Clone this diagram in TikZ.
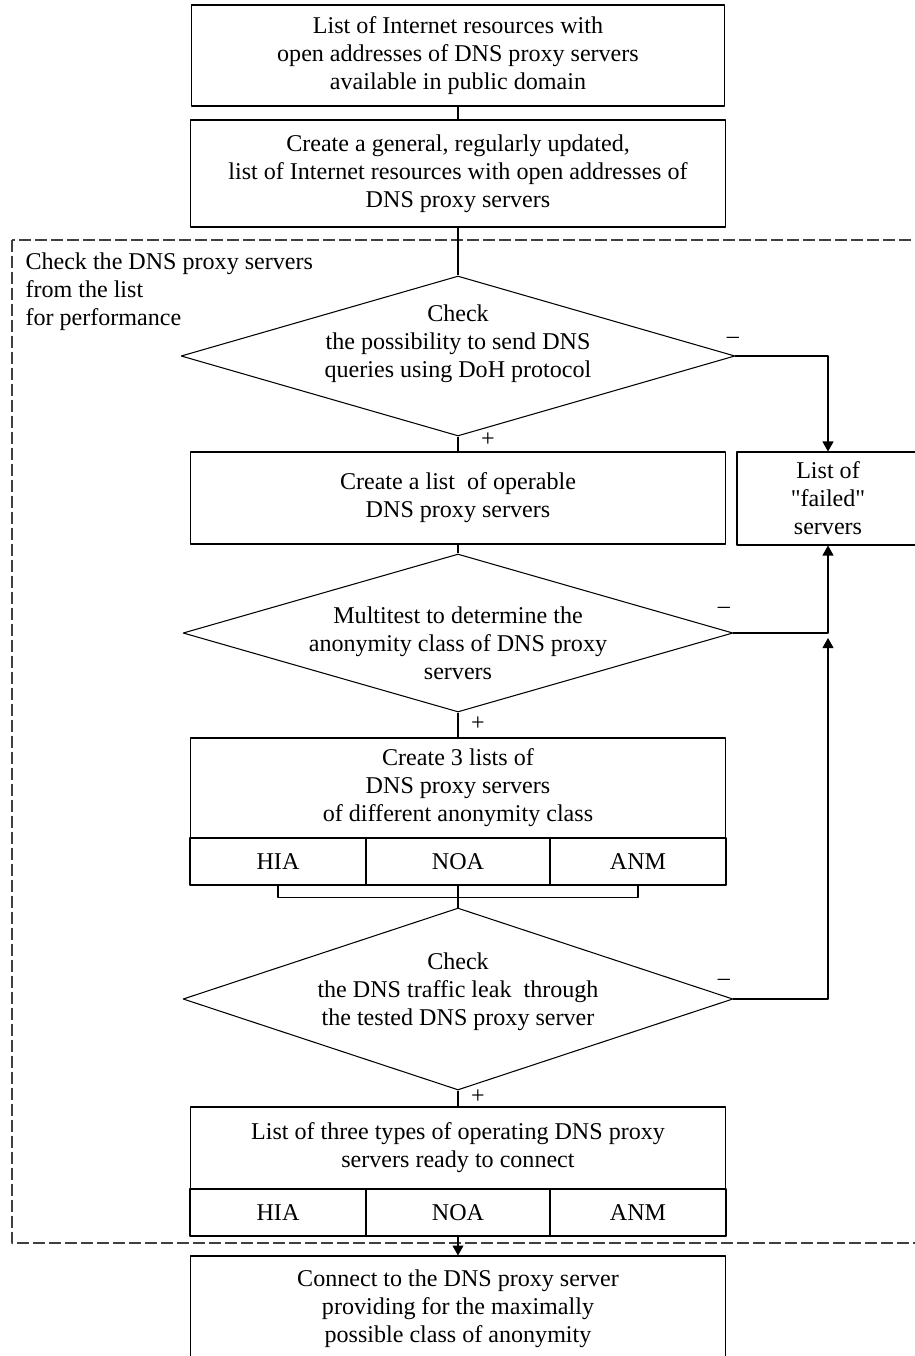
\documentclass[tikz,border=0pt]{standalone}
\usepackage{fontspec}
\setmainfont{Liberation Serif}
\usetikzlibrary{shapes.geometric,arrows.meta}
\begin{document}
\begin{tikzpicture}[x=0.02cm, y=-0.02cm, line width=0.6pt, line join=round,
		font=\fontsize{13.7}{15.9}\selectfont, >={Triangle[length=0.2cm,width=0.22cm]},
		blok/.style={draw, rectangle, align=center, inner sep=0pt, minimum width=10.72cm},
		cell/.style={draw, rectangle, inner sep=0pt, minimum height=0.94cm},
		decision/.style={draw, diamond, inner sep=0pt}]
	\clip (0,0) rectangle (915,1356);
	\useasboundingbox (0,0) rectangle (915,1356);
	% vong kiem tra (khung net dut)
	\draw[dash pattern=on 0.24cm off 0.08cm, black!75] (12,240) rectangle (930,1243);
	\node[anchor=west, align=left, inner sep=0pt] (lbl) at (25,292) {Check the DNS proxy servers\\from the list\\for performance};
	% cac khoi chinh
	\node[blok, minimum width=10.68cm, minimum height=2.02cm] (b1) at (458,55.5) {List of Internet resources with\\open addresses of DNS proxy servers\\available in public domain};
	\node[blok, minimum height=2.14cm] (b2) at (458,173.5) {Create a general, regularly updated,\\list of Internet resources with open addresses of\\DNS proxy servers};
	\node[decision, minimum width=11.08cm, minimum height=3.2cm,
		label={[align=center, yshift=0.24cm]center:{Check\\the possibility to send DNS\\queries using DoH protocol}}] (d1) at (458,356) {};
	\node[blok, minimum height=1.84cm] (b3) at (458,498) {Create a list\ \ of operable\\DNS proxy servers};
	\node[blok, minimum width=3.64cm, minimum height=1.86cm] (failed) at (828,498.5) {List of\\\textquotedbl failed\textquotedbl\\servers};
	\node[decision, minimum width=11cm, minimum height=3.16cm,
		label={[align=center, yshift=-0.2cm]center:{Multitest to determine the\\anonymity class of DNS proxy\\servers}}] (d2) at (458,633) {};
	\node[blok, minimum height=2cm] (b4) at (458,788) {Create 3 lists of\\DNS proxy servers\\of different anonymity class};
	\node[cell, minimum width=3.52cm] (hia1) at (278,861.5) {HIA};
	\node[cell, minimum width=3.68cm] (noa1) at (458,861.5) {NOA};
	\node[cell, minimum width=3.52cm] (anm1) at (638,861.5) {ANM};
	\node[decision, minimum width=11cm, minimum height=3.64cm,
		label={[align=center, yshift=0.14cm]center:{Check\\the DNS traffic leak\ \ through\\the tested DNS proxy server}}] (d3) at (458,999) {};
	\node[blok, minimum height=1.64cm] (b5) at (458,1148) {List of three types of operating DNS proxy\\servers ready to connect};
	\node[cell, minimum width=3.52cm] (hia2) at (278,1212.5) {HIA};
	\node[cell, minimum width=3.68cm] (noa2) at (458,1212.5) {NOA};
	\node[cell, minimum width=3.52cm] (anm2) at (638,1212.5) {ANM};
	\node[blok, minimum height=2.12cm] (b6) at (458,1309) {Connect to the DNS proxy server\\providing for the maximally\\possible class of anonymity};
	\coordinate (fj) at (828,638);
	% duong noi
	\draw (b1) -- (b2);
	\draw (b2) -- (d1);
	\draw (d1) -- (b3);
	\draw (b3) -- (d2);
	\draw (d2) -- (b4);
	\draw (hia1.south) -- ++(0,12) -| (anm1.south);
	\draw (noa1.south) -- (d3.north);
	\draw (d3) -- (b5);
	\draw[->] (noa2.south) -- (b6.north);
	\draw[->] (d1.east) -| (failed.north);
	\draw[->] (d2.east) -| (failed.south);
	\draw[->] (d3.east) -| (fj);
	% nhan +/-
	\node (m1) at (733,340) {--};
	\node (m2) at (724,610) {--};
	\node (m3) at (724,982) {--};
	\node (p1) at (488,440) {+};
	\node (p2) at (478,724) {+};
	\node (p3) at (478,1097) {+};
\end{tikzpicture}
\end{document}
